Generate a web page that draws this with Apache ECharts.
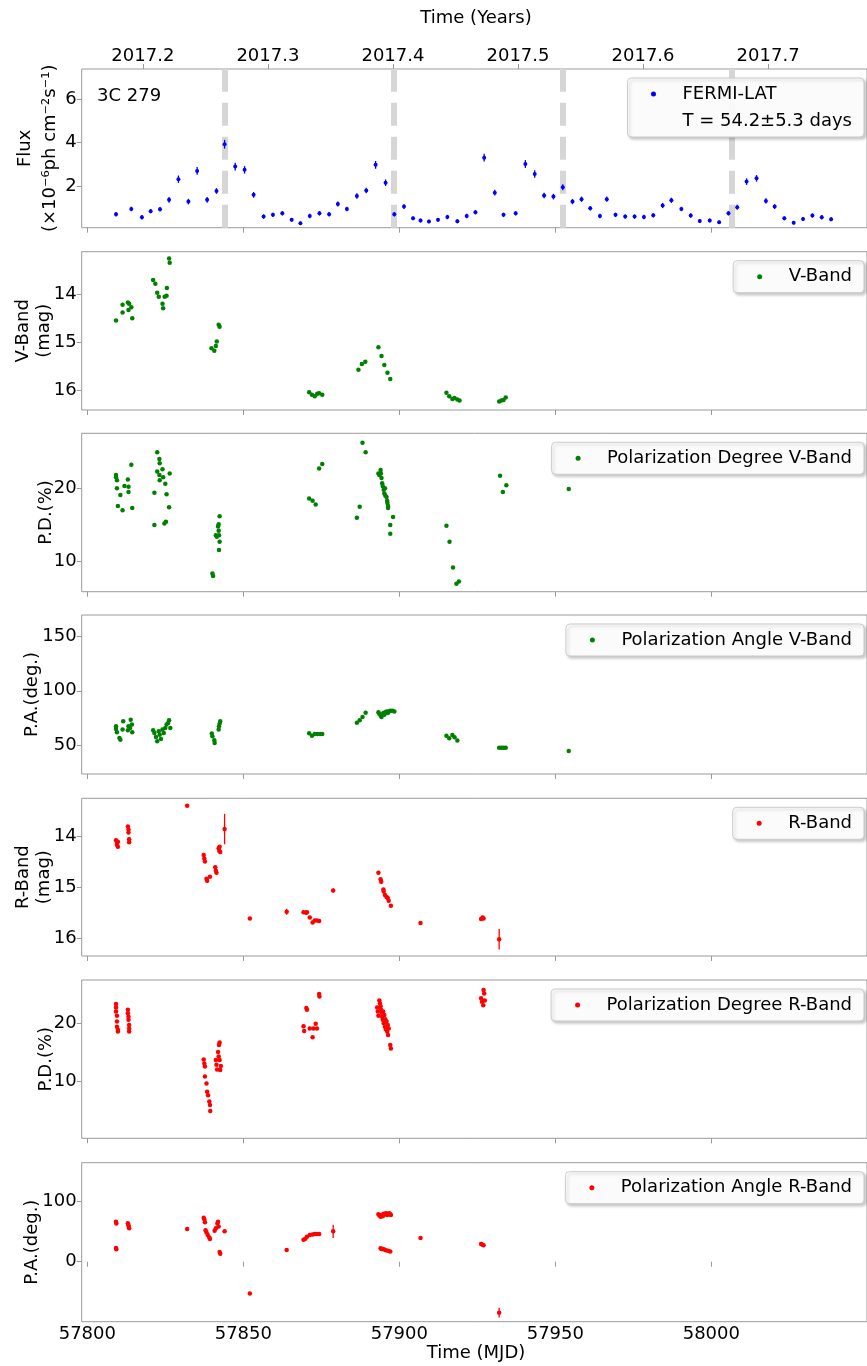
<!DOCTYPE html>
<html>
<head>
<meta charset="utf-8">
<script src="https://cdn.jsdelivr.net/npm/echarts@6/dist/echarts.min.js"></script>
<style>
  html, body { margin: 0; padding: 0; background: #ffffff; }
  #chart { width: 867px; height: 1366px; }
</style>
</head>
<body>
<div id="chart"></div>
<script>
// ---- tick labels ----
const mjdTicks = [57800, 57850, 57900, 57950, 58000];
const yearTicks = [2017.2, 2017.3, 2017.4, 2017.5, 2017.6, 2017.7];
const fluxTicks = [2, 4, 6];
const magTicks = [14, 15, 16];
const pdTicks = [10, 20];
const paVTicks = [50, 100, 150];
const paRTicks = [0, 100];

// ---- Fermi-LAT gamma-ray flux (3-day bins) ----
const fermiMJD = [57809.2, 57814.1, 57817.5, 57820.3, 57823.3, 57826.2, 57829.2, 57832.4, 57835.2, 57838.4,
  57841.4, 57844.0, 57847.4, 57850.4, 57853.3, 57856.5, 57859.5, 57862.5, 57865.5, 57868.3,
  57871.3, 57874.4, 57877.5, 57880.3, 57883.2, 57886.4, 57889.4, 57892.4, 57895.6, 57898.4,
  57901.5, 57904.4, 57906.8, 57909.5, 57912.4, 57915.4, 57918.6, 57921.6, 57924.4, 57927.2,
  57930.6, 57933.4, 57937.3, 57940.4, 57943.4, 57946.4, 57949.4, 57952.4, 57955.5, 57958.4,
  57961.2, 57964.3, 57966.5, 57969.3, 57972.4, 57975.4, 57978.4, 57981.4, 57984.4, 57987.2,
  57990.4, 57993.4, 57996.3, 57999.5, 58002.5, 58005.5, 58008.3, 58011.3, 58014.5, 58017.5,
  58020.3, 58023.4, 58026.4, 58029.4, 58032.4, 58035.4, 58038.4];
const fermiFlux = [0.70, 0.94, 0.56, 0.84, 0.93, 1.36, 2.31, 1.28, 2.69, 1.36,
  1.77, 3.92, 2.89, 2.74, 1.59, 0.59, 0.67, 0.74, 0.44, 0.28,
  0.62, 0.74, 0.70, 1.17, 0.94, 1.54, 1.79, 2.97, 2.15, 0.70,
  1.05, 0.51, 0.41, 0.36, 0.44, 0.57, 0.38, 0.62, 0.79, 3.30,
  1.69, 0.67, 0.74, 3.01, 2.55, 1.56, 1.51, 1.94, 1.28, 1.39,
  0.97, 0.62, 1.39, 0.67, 0.59, 0.59, 0.57, 0.65, 1.10, 1.34,
  0.94, 0.64, 0.39, 0.41, 0.33, 0.74, 1.02, 2.20, 2.35, 1.31,
  1.05, 0.51, 0.31, 0.48, 0.64, 0.56, 0.47];
const fermiErr = [0.10, 0.10, 0.10, 0.10, 0.10, 0.13, 0.17, 0.13, 0.18, 0.13,
  0.13, 0.20, 0.18, 0.17, 0.13, 0.10, 0.10, 0.10, 0.09, 0.08,
  0.10, 0.10, 0.10, 0.12, 0.10, 0.13, 0.13, 0.18, 0.15, 0.10,
  0.11, 0.09, 0.09, 0.08, 0.09, 0.10, 0.09, 0.10, 0.10, 0.18,
  0.13, 0.10, 0.10, 0.18, 0.17, 0.13, 0.13, 0.14, 0.12, 0.12,
  0.10, 0.10, 0.12, 0.10, 0.10, 0.10, 0.10, 0.10, 0.12, 0.12,
  0.10, 0.10, 0.09, 0.09, 0.08, 0.10, 0.11, 0.15, 0.15, 0.12,
  0.11, 0.09, 0.08, 0.09, 0.10, 0.10, 0.09];
// quasi-periodic flare epochs, T = 54.2 d
const flareEpochs = [57844.1, 57898.3, 57952.5, 58006.7];

// ---- V band ----
const vMagMJD = [57809.2, 57811.3, 57811.3, 57813.0, 57813.4, 57813.2, 57814.1, 57814.4,
  57821.1, 57821.8, 57822.4, 57822.9, 57824.1, 57824.3, 57824.8, 57825.4, 57825.5, 57826.2, 57826.4,
  57839.8, 57840.7, 57841.2, 57841.5, 57842.1, 57842.4,
  57871.1, 57872.0, 57872.9, 57873.7, 57874.3, 57875.3,
  57886.9, 57888.0, 57889.1, 57893.3, 57894.3, 57895.2, 57896.2, 57897.1,
  57915.1, 57916.0, 57917.0, 57917.7, 57918.6, 57919.3,
  57932.0, 57932.7, 57933.4, 57934.1];
const vMag = [14.55, 14.22, 14.38, 14.17, 14.20, 14.33, 14.27, 14.50,
  13.70, 13.78, 13.97, 14.05, 14.20, 14.29, 14.05, 14.03, 13.87, 13.25, 13.34,
  15.13, 15.18, 15.08, 14.99, 14.64, 14.68,
  16.05, 16.10, 16.13, 16.08, 16.07, 16.10,
  15.58, 15.46, 15.41, 15.11, 15.29, 15.48, 15.64, 15.77,
  16.06, 16.13, 16.19, 16.17, 16.20, 16.22,
  16.24, 16.22, 16.21, 16.16];

const pdVMJD = [57809.2, 57809.2, 57809.5, 57809.5, 57810.6, 57809.8, 57811.3, 57811.9, 57813.0, 57813.2, 57813.2, 57814.1, 57814.4,
  57821.5, 57821.5, 57822.4, 57823.1, 57823.2, 57822.4, 57823.1, 57823.2, 57824.1, 57824.3, 57825.0, 57825.4, 57824.7, 57825.2, 57826.2, 57826.4,
  57840.1, 57840.3, 57841.2, 57841.5, 57841.9, 57842.1, 57842.2, 57842.4, 57842.2, 57842.4, 57842.1,
  57871.1, 57872.2, 57873.2, 57874.3, 57875.3,
  57886.4, 57887.3, 57888.2, 57889.2,
  57893.3, 57893.6, 57894.0, 57894.1, 57894.3, 57894.5, 57894.7, 57895.0, 57895.2, 57895.4, 57895.5, 57895.9, 57896.1, 57896.2, 57896.4, 57896.4, 57897.1, 57897.1, 57898.0,
  57915.1, 57916.1, 57917.2, 57918.3, 57919.1,
  57932.3, 57933.2, 57934.3,
  57954.3];
const pdV = [21.8, 21.5, 21.1, 20.0, 19.1, 17.6, 17.0, 20.3, 21.2, 20.2, 19.5, 23.2, 17.3,
  19.4, 15.0, 24.9, 24.0, 23.4, 22.3, 21.8, 21.1, 22.6, 21.5, 20.6, 19.2, 15.2, 15.45, 17.4, 22.0,
  8.4, 8.05, 13.6, 13.4, 14.8, 14.2, 13.6, 12.7, 11.6, 16.2, 15.1,
  18.6, 18.3, 17.8, 22.7, 23.3,
  16.0, 17.5, 26.2, 24.9,
  22.0, 21.8, 22.5, 22.0, 21.4, 20.7, 20.3, 19.8, 19.3, 20.0, 19.0, 18.8, 18.3, 18.0, 17.6, 17.3, 15.0, 13.8, 16.1,
  14.9, 12.7, 9.2, 7.0, 7.3,
  21.7, 19.5, 20.4,
  19.9];

const paVMJD = [57809.2, 57809.2, 57809.5, 57810.3, 57810.6, 57811.3, 57811.5, 57813.0, 57813.2, 57813.7, 57813.9, 57814.3, 57814.4,
  57821.1, 57821.5, 57822.0, 57822.4, 57822.9, 57823.2, 57823.6, 57824.1, 57824.5, 57825.0, 57825.4, 57825.9, 57826.2, 57826.6,
  57839.9, 57840.1, 57840.7, 57840.8, 57842.1, 57842.2, 57842.4, 57842.6,
  57871.1, 57872.0, 57872.9, 57873.7, 57874.6, 57875.3,
  57886.4, 57887.3, 57888.2, 57889.2,
  57893.3, 57893.6, 57894.0, 57894.3, 57894.5, 57894.9, 57895.2, 57895.5, 57895.9, 57896.3, 57896.6, 57897.1, 57897.8, 57898.4,
  57915.1, 57916.0, 57917.0, 57917.7, 57918.6,
  57932.0, 57932.7, 57933.4, 57934.1,
  57954.3];
const paV = [64.8, 67.2, 61.7, 56.5, 54.9, 64.2, 71.8, 63.5, 67.2, 65.7, 73.4, 68.8, 61.7,
  63.5, 61.1, 57.4, 53.4, 62.6, 59.5, 55.5, 64.2, 61.1, 65.7, 68.8, 70.3, 72.8, 65.7,
  60.5, 58.0, 54.3, 51.8, 64.2, 67.2, 69.7, 71.8,
  60.8, 58.6, 60.2, 60.2, 60.2, 60.2,
  70.6, 72.8, 75.8, 79.8,
  80.1, 78.8, 77.0, 75.8, 77.9, 79.5, 77.9, 80.1, 81.0, 79.5, 81.0, 81.6, 81.6, 81.0,
  58.4, 56.2, 59.3, 57.2, 54.1,
  47.5, 47.5, 47.5, 47.5,
  44.5];

// ---- R band ----
const rMagMJD = [57809.2, 57809.5, 57809.5, 57809.8, 57809.8,
  57813.0, 57813.2, 57813.2, 57813.4, 57813.4,
  57832.0,
  57837.3, 57837.5, 57837.7, 57838.2, 57838.4, 57839.3,
  57841.0, 57841.2, 57841.4, 57842.1, 57842.3, 57842.4, 57842.6,
  57844.0,
  57852.1,
  57863.9,
  57869.3, 57870.1, 57870.4, 57871.3, 57872.2, 57872.9, 57873.6, 57874.3,
  57878.8,
  57893.3, 57894.0, 57894.2, 57894.9, 57895.0, 57895.4, 57895.9, 57896.3, 57896.6, 57897.3,
  57906.8,
  57926.2, 57926.7, 57927.0,
  57932.0];
const rMag = [14.07, 14.12, 14.16, 14.20, 14.10,
  13.80, 13.86, 13.92, 14.05, 14.11,
  13.39,
  14.36, 14.43, 14.49, 14.83, 14.87, 14.79,
  14.60, 14.67, 14.71, 14.23, 14.28, 14.20, 14.30,
  13.85,
  15.61,
  15.48,
  15.49, 15.50, 15.49, 15.59, 15.69, 15.65, 15.65, 15.66,
  15.06,
  14.71, 14.84, 14.89, 15.04, 15.08, 15.15, 15.19, 15.21, 15.26, 15.36,
  15.70,
  15.62, 15.59, 15.61,
  16.02];
const rMagErr = [0.03, 0.03, 0.03, 0.03, 0.03,
  0.03, 0.03, 0.03, 0.03, 0.03,
  0.02,
  0.03, 0.03, 0.03, 0.03, 0.03, 0.03,
  0.03, 0.03, 0.03, 0.03, 0.03, 0.03, 0.03,
  0.30,
  0.02,
  0.06,
  0.03, 0.03, 0.03, 0.03, 0.03, 0.03, 0.03, 0.03,
  0.04,
  0.03, 0.03, 0.03, 0.03, 0.03, 0.03, 0.03, 0.03, 0.03, 0.03,
  0.02,
  0.03, 0.03, 0.03,
  0.20];

const pdRMJD = [57809.2, 57809.2, 57809.2, 57809.5, 57809.5, 57809.5, 57809.8, 57809.8,
  57813.0, 57813.0, 57813.2, 57813.2, 57813.4, 57813.4, 57813.4,
  57837.3, 57837.5, 57837.7, 57837.7, 57838.2, 57838.4, 57838.7, 57839.1, 57839.3, 57839.4,
  57841.2, 57841.4, 57841.6, 57841.9, 57842.1, 57842.2, 57842.4, 57842.6, 57842.8, 57842.4,
  57869.3, 57869.5, 57870.2, 57870.4, 57871.3, 57872.2, 57872.5, 57873.2, 57873.6, 57874.3, 57874.4,
  57892.9, 57893.1, 57893.3, 57893.6, 57893.8, 57894.0, 57894.1, 57894.3, 57894.5, 57894.7, 57894.8, 57895.0,
  57895.2, 57895.4, 57895.5, 57895.7, 57895.9, 57896.1, 57896.3, 57896.4, 57896.6, 57897.1, 57897.3,
  57926.2, 57926.5, 57926.9, 57927.0, 57927.2, 57927.4];
const pdR = [23.3, 22.7, 22.0, 21.3, 20.3, 19.4, 18.9, 18.6,
  22.3, 21.7, 21.1, 20.6, 19.7, 19.1, 18.6,
  13.8, 13.1, 12.6, 10.9, 9.7, 8.3, 7.7, 6.6, 6.0, 5.0,
  13.7, 12.9, 12.1, 15.1, 14.3, 16.3, 16.7, 12.0, 12.7, 13.7,
  19.5, 18.7, 22.6, 22.3, 19.1, 17.6, 19.1, 19.9, 19.1, 25.0, 24.6,
  22.7, 22.0, 21.3, 23.9, 23.4, 22.9, 22.3, 21.8, 21.1, 20.6, 22.0, 20.0,
  21.4, 19.4, 20.7, 19.0, 20.3, 18.6, 19.7, 18.0, 19.1, 16.3, 15.7,
  24.3, 23.7, 23.1, 25.7, 25.1, 23.9];

const paRMJD = [57809.2, 57809.3, 57809.2, 57809.3,
  57813.0, 57813.2, 57813.3, 57813.4,
  57832.0,
  57837.3, 57837.5, 57837.7, 57837.9, 57838.2, 57838.6, 57839.1, 57839.3,
  57840.8, 57841.2, 57841.7, 57841.9, 57842.1, 57842.4, 57842.6,
  57844.0,
  57852.1,
  57863.9,
  57869.3, 57869.9, 57870.4, 57871.3, 57872.2, 57872.9, 57873.6, 57874.3,
  57878.8,
  57893.3, 57893.6, 57894.0, 57894.3, 57894.7, 57895.0, 57895.4, 57895.7, 57896.1, 57896.4, 57896.8, 57897.1, 57897.3,
  57894.0, 57894.3, 57894.7, 57895.2, 57895.7, 57896.4, 57897.1,
  57906.8,
  57926.2, 57926.7, 57927.0,
  57932.0];
const paR = [65.9, 63.0, 22.5, 20.5,
  63.2, 60.0, 57.0, 55.0,
  54.0,
  72.5, 70.0, 65.0, 52.0, 48.0, 44.0, 40.0, 37.5,
  51.0, 55.0, 63.0, 66.0, 58.0, 16.0, 13.0,
  50.0,
  -52.2,
  19.5,
  36.0, 38.0, 41.0, 44.0, 45.0, 45.5, 45.5, 45.5,
  50.0,
  78.0, 76.0, 74.0, 77.0, 75.0, 79.0, 78.0, 80.0, 77.0, 79.0, 80.0, 78.0, 77.0,
  22.0, 21.0, 21.0, 20.0, 19.0, 18.0, 17.0,
  39.0,
  29.0, 28.0, 27.0,
  -84.0];
const paRErr = [2, 2, 2, 2,
  2, 2, 2, 2,
  2,
  2, 2, 2, 2, 2, 2, 2, 2,
  2, 2, 2, 2, 2, 2, 2,
  1,
  2,
  2,
  2, 2, 2, 2, 2, 2, 2, 2,
  11,
  2, 2, 2, 2, 2, 2, 2, 2, 2, 2, 2, 2, 2,
  2, 2, 2, 2, 2, 2, 2,
  2,
  2, 2, 2,
  8];

// ---- layout ----
const FONT = 'DejaVu Sans';
const SPINE = '#9a9a9a';
const X_MIN = 57798.2, X_MAX = 58049.9;
const YEAR_MIN = 2017.1511, YEAR_MAX = 2017.7791;
const panelTop = [69, 251.7, 433.3, 615, 798.3, 980, 1162.7];
const panelHeight = [158.7, 158.3, 158.4, 159, 157.7, 158.3, 159];
const GRID_LEFT = 81.7, GRID_RIGHT = -6;

const BLUE = '#0000ff', GREEN = '#008000', RED = '#ff0000';

const pairs = (xs, ys) => xs.map((x, i) => [x, ys[i]]);

const grids = panelTop.map((t, i) => ({
  left: GRID_LEFT, right: GRID_RIGHT, top: t, height: panelHeight[i],
  show: true, borderColor: SPINE, borderWidth: 1, containLabel: false
}));

const xAxes = panelTop.map((t, i) => ({
  type: 'value', gridIndex: i, position: 'bottom', min: X_MIN, max: X_MAX,
  axisLine: { show: false }, splitLine: { show: false },
  axisTick: { show: true, customValues: mjdTicks, length: 5, inside: false, lineStyle: { color: SPINE, width: 1 } },
  axisLabel: {
    show: i === panelTop.length - 1, customValues: mjdTicks, margin: 4,
    color: '#000', fontFamily: FONT, fontSize: 18,
    formatter: v => String(v)
  }
}));
xAxes.push({
  type: 'value', gridIndex: 0, position: 'top', min: YEAR_MIN, max: YEAR_MAX,
  axisLine: { show: false }, splitLine: { show: false },
  axisTick: { show: true, customValues: yearTicks, length: 5, lineStyle: { color: SPINE, width: 1 } },
  axisLabel: {
    show: true, customValues: yearTicks, margin: 4,
    color: '#000', fontFamily: FONT, fontSize: 18,
    formatter: v => v.toFixed(1)
  }
});

function yAxis(i, min, max, ticks, inverse) {
  return {
    type: 'value', gridIndex: i, min, max, inverse: !!inverse,
    axisLine: { show: false }, splitLine: { show: false },
    axisTick: { show: true, customValues: ticks, length: 5, lineStyle: { color: SPINE, width: 1 } },
    axisLabel: { customValues: ticks, margin: 5, color: '#000', fontFamily: FONT, fontSize: 18 }
  };
}
const yAxes = [
  yAxis(0, 0.08, 7.38, fluxTicks),
  yAxis(1, 13.11, 16.42, magTicks, true),
  yAxis(2, 5.91, 27.49, pdTicks),
  yAxis(3, 23.2, 170.0, paVTicks),
  yAxis(4, 13.244, 16.35, magTicks, true),
  yAxis(5, 0.31, 27.41, pdTicks),
  yAxis(6, -98.8, 163.1, paRTicks)
];

function scatter(name, gi, xs, ys, color, size) {
  return {
    type: 'scatter', name, xAxisIndex: gi, yAxisIndex: gi,
    data: pairs(xs, ys), symbol: 'circle', symbolSize: size,
    itemStyle: { color, opacity: 1 }, z: 3, silent: true
  };
}
function errorBars(name, gi, xs, ys, errs, color) {
  return {
    type: 'custom', name, xAxisIndex: gi, yAxisIndex: gi, silent: true, z: 2,
    data: xs.map((x, i) => [x, ys[i] - errs[i], ys[i] + errs[i]]),
    encode: { x: 0, y: [1, 2] },
    renderItem: (params, api) => {
      const lo = api.coord([api.value(0), api.value(1)]);
      const hi = api.coord([api.value(0), api.value(2)]);
      return {
        type: 'line',
        shape: { x1: lo[0], y1: lo[1], x2: hi[0], y2: hi[1] },
        style: { stroke: color, lineWidth: 1.3 }
      };
    }
  };
}

const fermiSeries = scatter('FERMI-LAT', 0, fermiMJD, fermiFlux, BLUE, 4);
fermiSeries.markLine = {
  silent: true, symbol: 'none', z: 1,
  label: { show: false },
  lineStyle: { color: '#d6d6d6', width: 6, type: [23, 11], opacity: 1 },
  emphasis: { disabled: true },
  data: flareEpochs.map(v => ({ xAxis: v }))
};

const series = [
  fermiSeries,
  errorBars('fermi-err', 0, fermiMJD, fermiFlux, fermiErr, BLUE),
  { type: 'scatter', name: 'T = 54.2±5.3 days', xAxisIndex: 0, yAxisIndex: 0, data: [] },
  scatter('V-Band', 1, vMagMJD, vMag, GREEN, 4.5),
  scatter('Polarization Degree V-Band', 2, pdVMJD, pdV, GREEN, 4.5),
  scatter('Polarization Angle V-Band', 3, paVMJD, paV, GREEN, 4.5),
  errorBars('r-err', 4, rMagMJD, rMag, rMagErr, RED),
  scatter('R-Band', 4, rMagMJD, rMag, RED, 4.5),
  scatter('Polarization Degree R-Band', 5, pdRMJD, pdR, RED, 4.5),
  errorBars('pa-r-err', 6, paRMJD, paR, paRErr, RED),
  scatter('Polarization Angle R-Band', 6, paRMJD, paR, RED, 4.5)
];

function legendBox(i, items, vertical) {
  return {
    show: true, selectedMode: false, orient: vertical ? 'vertical' : 'horizontal',
    align: 'left',
    right: 3, top: panelTop[i] + 9,
    data: items,
    itemWidth: 40, itemHeight: 5, itemGap: 9,
    padding: vertical ? [7, 12, 7, 6] : [7, 12, 7, 24],
    backgroundColor: 'rgba(255,255,255,0.92)',
    borderColor: '#cccccc', borderWidth: 1, borderRadius: 4,
    shadowBlur: 3, shadowColor: 'rgba(0,0,0,0.22)', shadowOffsetX: 2, shadowOffsetY: 2,
    textStyle: { color: '#000', fontFamily: FONT, fontSize: 18, padding: [0, 0, 0, 4] }
  };
}
const legends = [
  legendBox(0, [{ name: 'FERMI-LAT', icon: 'circle' }, { name: 'T = 54.2±5.3 days', icon: 'none' }], true),
  legendBox(1, [{ name: 'V-Band', icon: 'circle' }]),
  legendBox(2, [{ name: 'Polarization Degree V-Band', icon: 'circle' }]),
  legendBox(3, [{ name: 'Polarization Angle V-Band', icon: 'circle' }]),
  legendBox(4, [{ name: 'R-Band', icon: 'circle' }]),
  legendBox(5, [{ name: 'Polarization Degree R-Band', icon: 'circle' }]),
  legendBox(6, [{ name: 'Polarization Angle R-Band', icon: 'circle' }])
];

// axis titles
const yTitles = [
  { text: 'Flux\n(×10⁻⁶ph cm⁻²s⁻¹)', x: 38, lh: 25 },
  { text: 'V-Band\n(mag)', x: 34, lh: 21 },
  { text: 'P.D.(%)', x: 46, lh: 21 },
  { text: 'P.A.(deg.)', x: 32, lh: 21 },
  { text: 'R-Band\n(mag)', x: 34, lh: 21 },
  { text: 'P.D.(%)', x: 46, lh: 21 },
  { text: 'P.A.(deg.)', x: 32, lh: 21 }
];
const graphics = yTitles.map((t, i) => ({
  type: 'text', x: t.x, y: panelTop[i] + panelHeight[i] / 2, rotation: Math.PI / 2, silent: true,
  style: {
    text: t.text, fill: '#000', fontFamily: FONT, fontSize: 18, lineHeight: t.lh,
    textAlign: 'center', textVerticalAlign: 'middle'
  }
}));
graphics.push(
  { type: 'text', x: 476, y: 18.5, silent: true,
    style: { text: 'Time (Years)', fill: '#000', fontFamily: FONT, fontSize: 18, textAlign: 'center', textVerticalAlign: 'middle' } },
  { type: 'text', x: 476, y: 1353, silent: true,
    style: { text: 'Time (MJD)', fill: '#000', fontFamily: FONT, fontSize: 18, textAlign: 'center', textVerticalAlign: 'middle' } },
  { type: 'text', x: 97, y: 96, silent: true,
    style: { text: '3C 279', fill: '#000', fontFamily: FONT, fontSize: 18, textAlign: 'left', textVerticalAlign: 'middle' } }
);

const chart = echarts.init(document.getElementById('chart'), null, { renderer: 'canvas' });
chart.setOption({
  animation: false,
  backgroundColor: '#ffffff',
  textStyle: { fontFamily: FONT },
  grid: grids,
  xAxis: xAxes,
  yAxis: yAxes,
  legend: legends,
  series,
  graphic: graphics
});
</script>
</body>
</html>
